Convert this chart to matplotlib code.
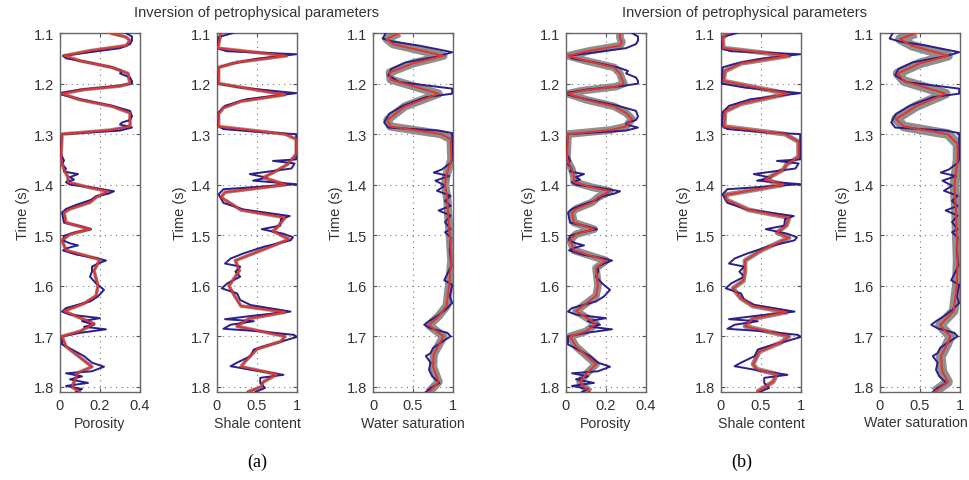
import matplotlib
matplotlib.use("Agg")
import matplotlib.pyplot as plt

plt.rcParams['font.family'] = ['Liberation Sans', 'DejaVu Sans']

# true model (blue), shared by (a) and (b)
phi_true_t = [1.100, 1.107, 1.115, 1.122, 1.130, 1.138, 1.145, 1.150, 1.158, 1.168,
              1.175, 1.180, 1.188, 1.195, 1.200, 1.205, 1.212, 1.218, 1.222, 1.231,
              1.244, 1.254, 1.265, 1.272, 1.277, 1.281, 1.287, 1.293, 1.300, 1.320,
              1.340, 1.352, 1.360, 1.368, 1.374, 1.379, 1.385, 1.390, 1.395, 1.400,
              1.405, 1.413, 1.418, 1.423, 1.430, 1.440, 1.448, 1.455, 1.465, 1.475,
              1.482, 1.488, 1.494, 1.501, 1.510, 1.516, 1.520, 1.525, 1.530, 1.538,
              1.546, 1.550, 1.556, 1.562, 1.572, 1.582, 1.595, 1.608, 1.621, 1.631,
              1.644, 1.651, 1.657, 1.664, 1.670, 1.677, 1.681, 1.686, 1.693, 1.700,
              1.716, 1.726, 1.739, 1.752, 1.760, 1.769, 1.773, 1.779, 1.785, 1.792,
              1.798, 1.804, 1.810]
phi_true = [0.33, 0.36, 0.36, 0.35, 0.30, 0.15, 0.015, 0.03, 0.14, 0.26,
            0.31, 0.30, 0.35, 0.36, 0.36, 0.28, 0.10, 0.01, 0.01, 0.10,
            0.26, 0.35, 0.36, 0.35, 0.31, 0.30, 0.36, 0.30, 0.01, 0.005,
            0.005, 0.02, 0.01, 0.03, 0.02, 0.09, 0.05, 0.07, 0.03, 0.05,
            0.15, 0.27, 0.24, 0.18, 0.155, 0.08, 0.03, 0.01, 0.015, 0.02,
            0.10, 0.155, 0.08, 0.02, 0.015, 0.05, 0.09, 0.04, 0.015, 0.08,
            0.19, 0.23, 0.19, 0.16, 0.16, 0.15, 0.18, 0.22, 0.19, 0.15,
            0.03, 0.01, 0.05, 0.20, 0.11, 0.17, 0.12, 0.23, 0.10, 0.01,
            0.01, 0.06, 0.12, 0.16, 0.22, 0.16, 0.03, 0.11, 0.05, 0.14,
            0.03, 0.11, 0.08]

vsh_true_t = [1.100, 1.108, 1.130, 1.136, 1.142, 1.151, 1.161, 1.168, 1.200, 1.208,
              1.219, 1.231, 1.244, 1.257, 1.283, 1.290, 1.296, 1.300, 1.350, 1.353,
              1.358, 1.368, 1.379, 1.386, 1.392, 1.399, 1.409, 1.419, 1.436, 1.449,
              1.462, 1.468, 1.481, 1.488, 1.497, 1.504, 1.510, 1.523, 1.536, 1.546,
              1.556, 1.562, 1.572, 1.582, 1.595, 1.605, 1.615, 1.628, 1.638, 1.651,
              1.659, 1.666, 1.670, 1.677, 1.685, 1.690, 1.697, 1.701, 1.710, 1.720,
              1.726, 1.739, 1.752, 1.759, 1.766, 1.776, 1.782, 1.792, 1.802, 1.810]
vsh_true = [0.20, 0.02, 0.005, 0.12, 0.99, 0.50, 0.17, 0.02, 0.01, 0.30,
            0.99, 0.37, 0.10, 0.02, 0.01, 0.08, 0.54, 0.99, 0.99, 0.70,
            0.97, 0.93, 0.41, 0.62, 0.45, 0.99, 0.08, 0.02, 0.08, 0.33,
            0.91, 0.80, 0.79, 0.56, 0.83, 0.95, 0.92, 0.58, 0.33, 0.17,
            0.10, 0.29, 0.23, 0.29, 0.13, 0.06, 0.25, 0.29, 0.42, 0.92,
            0.46, 0.10, 0.46, 0.17, 0.08, 0.54, 0.96, 1.00, 0.81, 0.58,
            0.46, 0.42, 0.25, 0.17, 0.42, 0.83, 0.54, 0.54, 0.60, 0.48]

sw_true_t = [1.100, 1.111, 1.117, 1.125, 1.138, 1.146, 1.158, 1.171, 1.184, 1.197,
             1.210, 1.220, 1.227, 1.244, 1.260, 1.277, 1.287, 1.293, 1.298, 1.350,
             1.357, 1.370, 1.376, 1.383, 1.392, 1.402, 1.412, 1.422, 1.432, 1.442,
             1.451, 1.461, 1.474, 1.488, 1.494, 1.504, 1.530, 1.560, 1.589, 1.598,
             1.621, 1.634, 1.648, 1.661, 1.670, 1.677, 1.684, 1.693, 1.700, 1.710,
             1.723, 1.733, 1.739, 1.752, 1.766, 1.779, 1.792, 1.802, 1.810]
sw_true = [0.16, 0.12, 0.25, 0.58, 0.99, 0.82, 0.41, 0.23, 0.19, 0.33,
           0.99, 0.99, 0.66, 0.37, 0.20, 0.14, 0.19, 0.82, 0.99, 0.99,
           0.97, 0.86, 0.76, 0.95, 0.78, 0.90, 0.80, 0.97, 0.90, 0.97,
           0.82, 0.97, 0.90, 0.97, 0.90, 0.97, 0.96, 0.98, 0.89, 0.99,
           0.96, 0.99, 0.90, 0.79, 0.70, 0.64, 0.72, 0.93, 0.97, 0.87,
           0.75, 0.72, 0.66, 0.72, 0.70, 0.74, 0.83, 0.72, 0.66]

# mean of the inverted realizations (red), case (a)
phi_a_t = [1.100, 1.108, 1.115, 1.125, 1.135, 1.145, 1.155, 1.168, 1.180, 1.200,
           1.205, 1.212, 1.220, 1.232, 1.245, 1.258, 1.285, 1.292, 1.300, 1.350,
           1.370, 1.385, 1.395, 1.405, 1.413, 1.425, 1.435, 1.448, 1.455, 1.475,
           1.488, 1.498, 1.510, 1.530, 1.548, 1.570, 1.600, 1.620, 1.635, 1.650,
           1.675, 1.690, 1.700, 1.720, 1.760, 1.772, 1.790, 1.800, 1.810]
phi_a = [0.25, 0.33, 0.35, 0.33, 0.15, 0.02, 0.10, 0.26, 0.34, 0.35,
         0.30, 0.12, 0.01, 0.10, 0.26, 0.35, 0.35, 0.25, 0.01, 0.005,
         0.02, 0.04, 0.04, 0.14, 0.24, 0.18, 0.15, 0.05, 0.02, 0.03,
         0.15, 0.05, 0.01, 0.03, 0.20, 0.17, 0.19, 0.18, 0.12, 0.02,
         0.17, 0.10, 0.01, 0.03, 0.16, 0.09, 0.07, 0.06, 0.10]

vsh_a_t = [1.100, 1.130, 1.145, 1.158, 1.168, 1.200, 1.222, 1.235, 1.248, 1.260,
           1.285, 1.300, 1.310, 1.340, 1.360, 1.372, 1.386, 1.400, 1.415, 1.425,
           1.450, 1.465, 1.485, 1.492, 1.508, 1.530, 1.550, 1.570, 1.600, 1.620,
           1.640, 1.652, 1.665, 1.680, 1.700, 1.710, 1.725, 1.750, 1.760, 1.775,
           1.790, 1.800, 1.810]
vsh_a = [0.05, 0.01, 0.87, 0.25, 0.02, 0.02, 0.85, 0.30, 0.08, 0.02,
         0.02, 0.85, 0.99, 0.99, 0.88, 0.75, 0.58, 0.86, 0.10, 0.05,
         0.30, 0.85, 0.75, 0.70, 0.90, 0.55, 0.23, 0.28, 0.15, 0.22,
         0.30, 0.86, 0.40, 0.25, 0.85, 0.80, 0.50, 0.35, 0.30, 0.75,
         0.58, 0.55, 0.38]

sw_a_t = [1.100, 1.112, 1.122, 1.145, 1.160, 1.178, 1.192, 1.220, 1.245, 1.272,
          1.285, 1.300, 1.310, 1.350, 1.380, 1.400, 1.430, 1.460, 1.500, 1.550,
          1.600, 1.640, 1.660, 1.678, 1.700, 1.712, 1.735, 1.760, 1.790, 1.810]
sw_a = [0.33, 0.17, 0.25, 0.88, 0.50, 0.21, 0.22, 0.82, 0.40, 0.18,
        0.22, 0.85, 0.97, 0.98, 0.92, 0.90, 0.93, 0.94, 0.96, 0.98,
        0.95, 0.92, 0.82, 0.70, 0.88, 0.84, 0.76, 0.75, 0.82, 0.70]

# mean of the inverted realizations (red), case (b)
phi_b_t = [1.100, 1.110, 1.118, 1.125, 1.135, 1.145, 1.155, 1.168, 1.180, 1.192,
           1.200, 1.206, 1.214, 1.220, 1.232, 1.245, 1.258, 1.270, 1.285, 1.292,
           1.300, 1.350, 1.370, 1.385, 1.395, 1.405, 1.413, 1.425, 1.435, 1.448,
           1.455, 1.475, 1.488, 1.498, 1.510, 1.530, 1.550, 1.565, 1.600, 1.620,
           1.650, 1.675, 1.690, 1.700, 1.720, 1.755, 1.775, 1.790, 1.800, 1.810]
phi_b = [0.27, 0.27, 0.28, 0.27, 0.12, 0.01, 0.10, 0.24, 0.27, 0.28,
         0.29, 0.25, 0.08, 0.01, 0.10, 0.24, 0.30, 0.33, 0.30, 0.22,
         0.01, 0.005, 0.03, 0.04, 0.04, 0.13, 0.22, 0.16, 0.13, 0.05,
         0.03, 0.04, 0.14, 0.05, 0.02, 0.04, 0.20, 0.15, 0.16, 0.15,
         0.05, 0.15, 0.10, 0.02, 0.05, 0.15, 0.10, 0.07, 0.09, 0.12]

vsh_b_t = [1.100, 1.110, 1.130, 1.145, 1.160, 1.175, 1.195, 1.220, 1.240, 1.255,
           1.285, 1.300, 1.315, 1.345, 1.360, 1.370, 1.390, 1.400, 1.420, 1.430,
           1.450, 1.465, 1.480, 1.495, 1.505, 1.530, 1.550, 1.570, 1.590, 1.605,
           1.625, 1.640, 1.652, 1.665, 1.680, 1.700, 1.712, 1.730, 1.755, 1.765,
           1.775, 1.790, 1.800, 1.810]
vsh_b = [0.08, 0.02, 0.03, 0.85, 0.25, 0.05, 0.03, 0.83, 0.25, 0.05,
         0.04, 0.80, 0.97, 0.97, 0.82, 0.78, 0.55, 0.78, 0.06, 0.07,
         0.35, 0.85, 0.82, 0.70, 0.85, 0.50, 0.30, 0.30, 0.28, 0.15,
         0.25, 0.40, 0.82, 0.40, 0.30, 0.85, 0.75, 0.48, 0.40, 0.45,
         0.70, 0.65, 0.55, 0.45]

sw_b_t = [1.100, 1.112, 1.125, 1.145, 1.160, 1.180, 1.195, 1.220, 1.245, 1.270,
          1.285, 1.300, 1.320, 1.350, 1.400, 1.450, 1.500, 1.550, 1.600, 1.650,
          1.678, 1.700, 1.715, 1.740, 1.770, 1.790, 1.810]
sw_b = [0.45, 0.25, 0.40, 0.85, 0.50, 0.22, 0.30, 0.82, 0.45, 0.20,
        0.30, 0.85, 0.97, 0.97, 0.93, 0.95, 0.96, 0.97, 0.96, 0.92,
        0.75, 0.88, 0.84, 0.76, 0.78, 0.85, 0.68]

x_labels = ['Porosity', 'Shale content', 'Water saturation']
x_limits = [(0, 0.4), (0, 1), (0, 1)]
x_ticks = [[0, 0.2, 0.4], [0, 0.5, 1], [0, 0.5, 1]]
x_ticklabels = [['0', '0.2', '0.4'], ['0', '0.5', '1'], ['0', '0.5', '1']]
y_ticks = [1.1, 1.2, 1.3, 1.4, 1.5, 1.6, 1.7, 1.8]

true_logs = [(phi_true_t, phi_true), (vsh_true_t, vsh_true), (sw_true_t, sw_true)]
mean_logs = {
    'a': [(phi_a_t, phi_a), (vsh_a_t, vsh_a), (sw_a_t, sw_a)],
    'b': [(phi_b_t, phi_b), (vsh_b_t, vsh_b), (sw_b_t, sw_b)],
}
# width of the spread of realizations (drawn as a grey halo)
spread_lw = {'a': [2.6, 2.6, 6.0], 'b': [5.5, 3.5, 7.0]}

W, H = 970, 481
fig = plt.figure(figsize=(W / 100, H / 100), dpi=100)

lefts = {'a': [60, 217, 373], 'b': [566, 721, 880]}
ax_w = 80
top_px, bot_px = 34, 393

blue = '#2a1f8c'
red = '#e8332a'
grey = '#8e8e8e'

for case in ['a', 'b']:
    for k in range(3):
        left = lefts[case][k]
        ax = fig.add_axes([left / W, 1 - bot_px / H, ax_w / W, (bot_px - top_px) / H])
        tt, vv = mean_logs[case][k]
        ax.plot(vv, tt, color=grey, lw=spread_lw[case][k], solid_joinstyle='round',
                solid_capstyle='butt', zorder=2)
        bt, bv = true_logs[k]
        ax.plot(bv, bt, color=blue, lw=1.4, zorder=3)
        ax.plot(vv, tt, color=red, lw=1.4, zorder=4)

        ax.set_xlim(*x_limits[k])
        ax.set_ylim(1.81, 1.1)
        ax.set_xticks(x_ticks[k])
        ax.set_xticklabels(x_ticklabels[k])
        ax.set_yticks(y_ticks)
        ax.set_yticklabels([f'{v:.1f}' for v in y_ticks])
        ax.grid(True, ls=(0, (1, 4)), color='#777777', lw=0.8)
        ax.tick_params(direction='in', length=3, top=True, right=True,
                       labelsize=10.5, color='#555555', labelcolor='#333333', pad=4)
        for s in ax.spines.values():
            s.set_color('#666666')
            s.set_linewidth(1.0)
        ax.set_xlabel(x_labels[k], fontsize=10.2, color='#333333', labelpad=3)
        ax.set_ylabel('Time (s)', fontsize=10.5, color='#333333', labelpad=3)
        if case == 'b' and k == 2:
            ax.xaxis.set_label_coords(0.45, -0.064)

fig.text(257 / W, 1 - 13 / H, 'Inversion of petrophysical parameters',
         ha='center', va='center', fontsize=10.5, color='#333333')
fig.text(744 / W, 1 - 13 / H, 'Inversion of petrophysical parameters',
         ha='center', va='center', fontsize=10.5, color='#333333')
fig.text(257 / W, 1 - 462 / H, '(a)', ha='center', va='center', fontsize=13,
         family=['Liberation Serif', 'DejaVu Serif'])
fig.text(742 / W, 1 - 462 / H, '(b)', ha='center', va='center', fontsize=13,
         family=['Liberation Serif', 'DejaVu Serif'])

fig.savefig('out.png', dpi=100)
